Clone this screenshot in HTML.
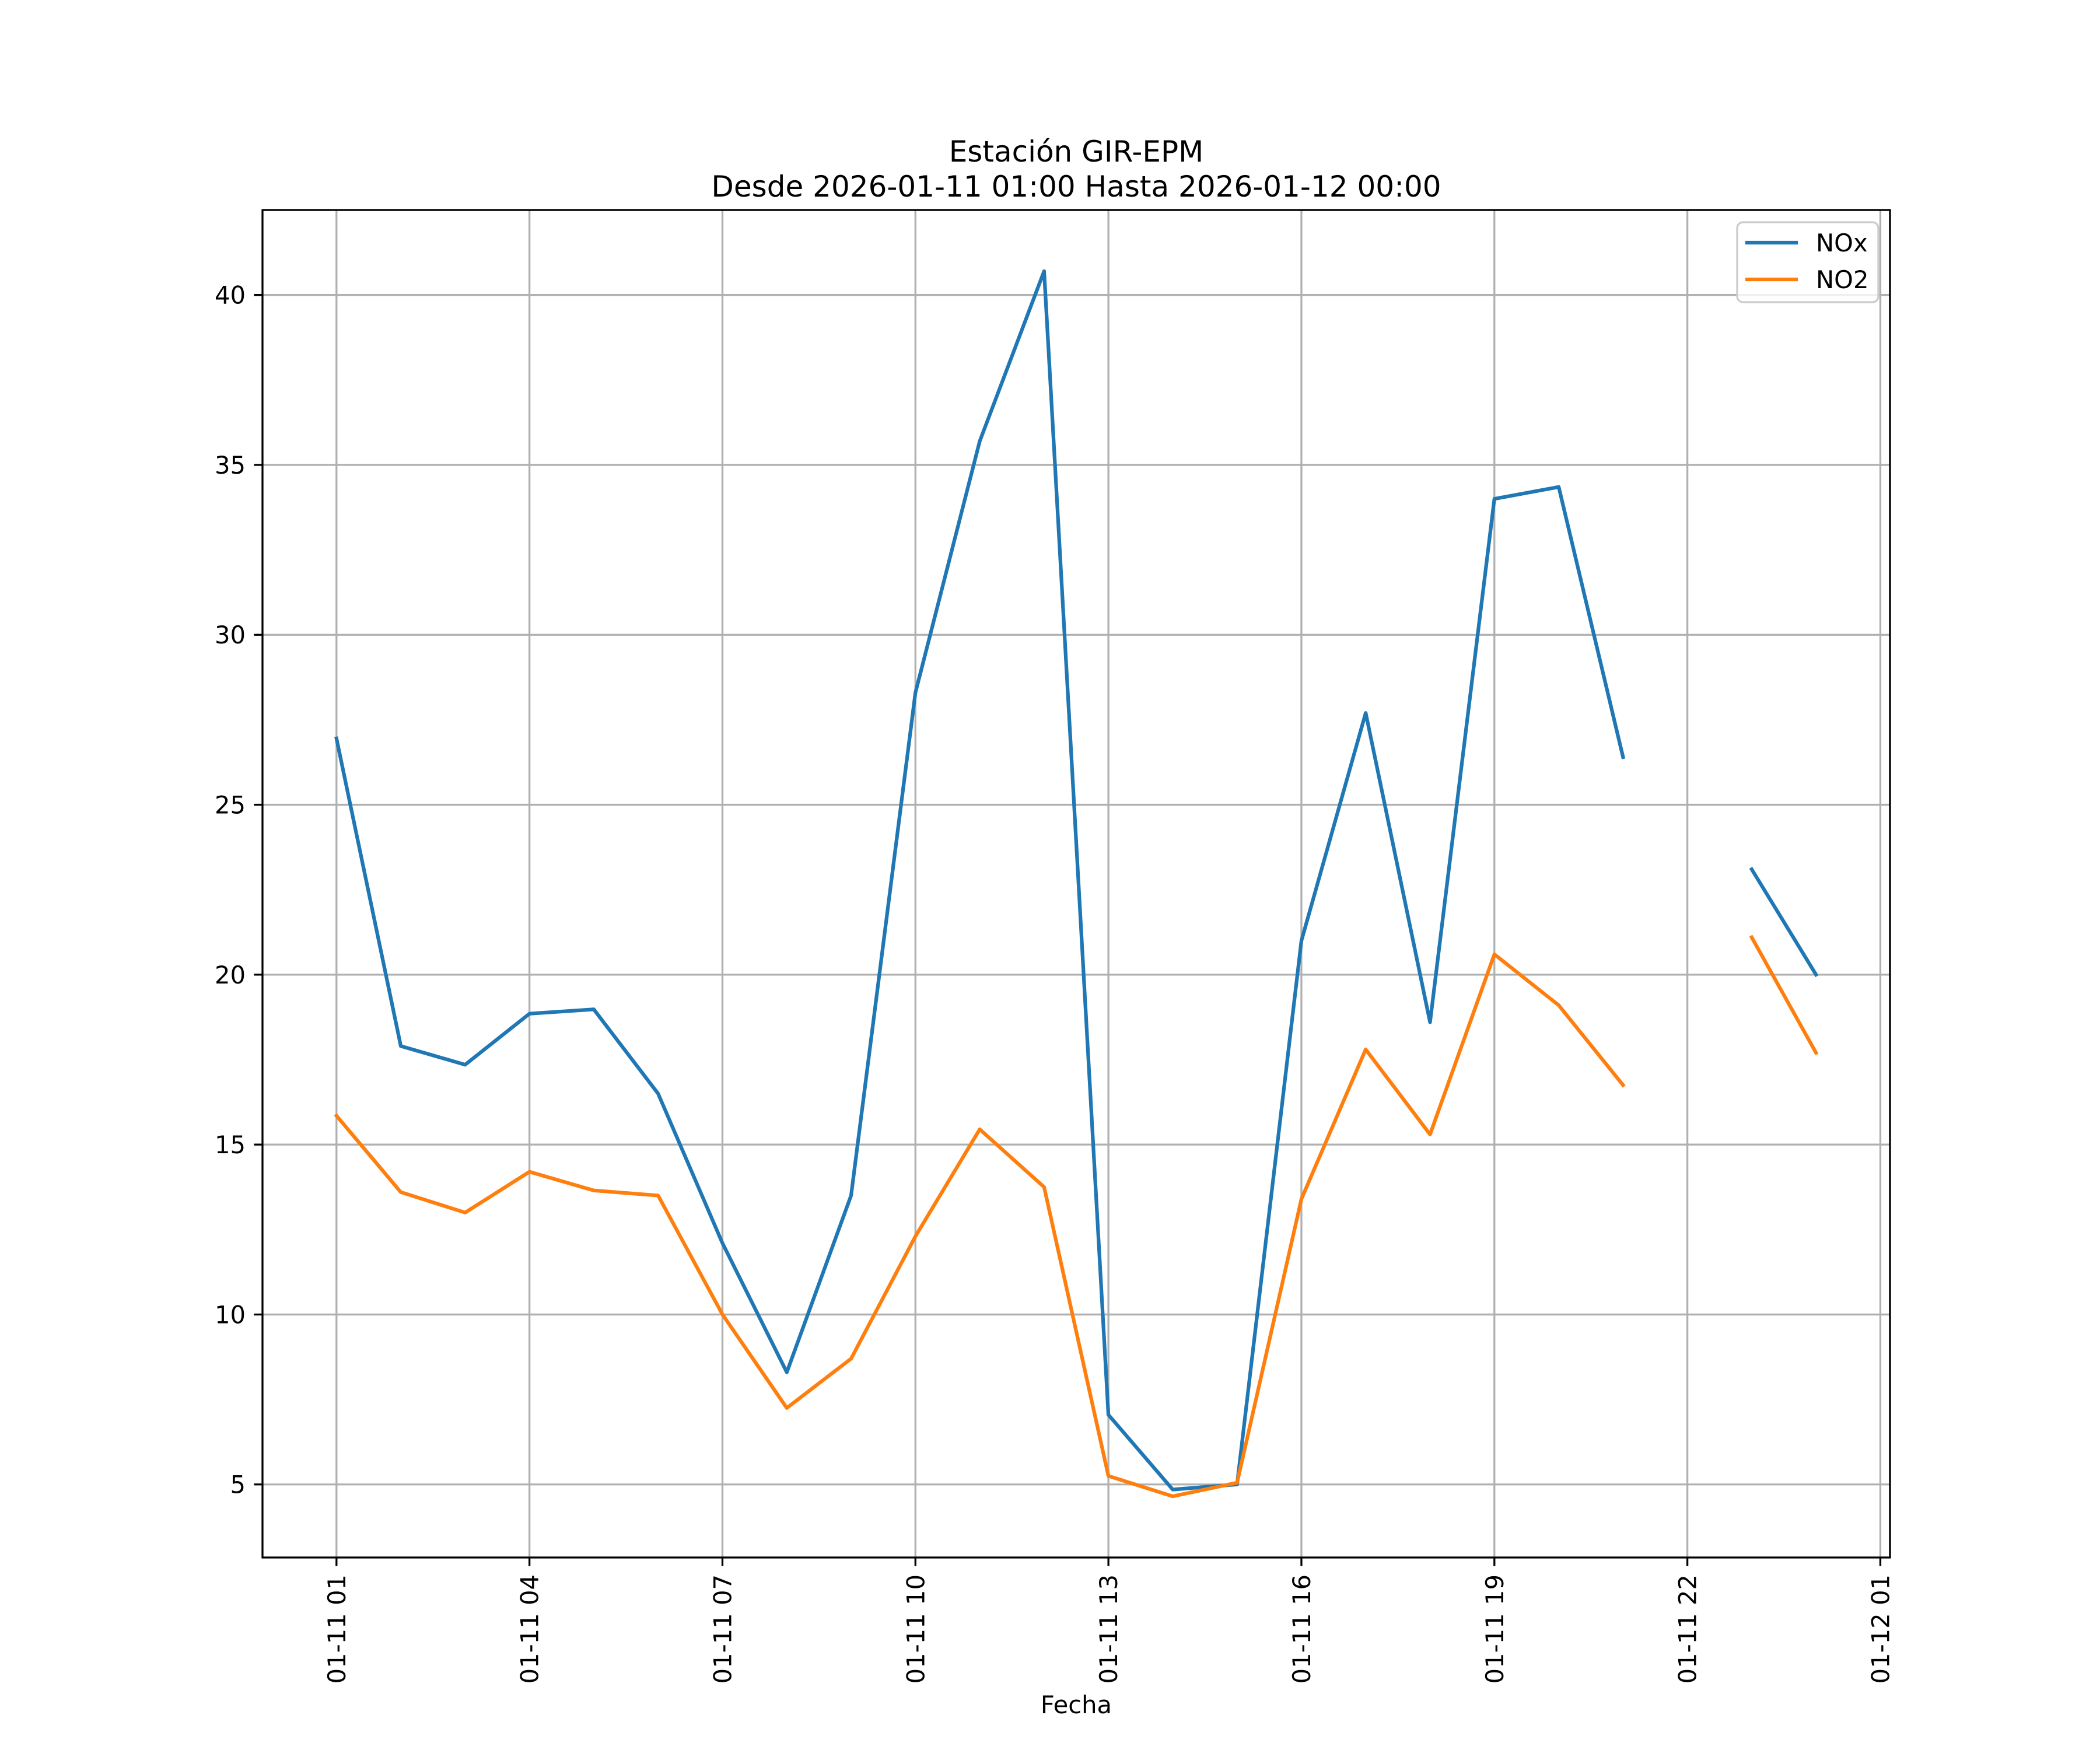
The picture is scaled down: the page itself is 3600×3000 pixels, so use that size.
<!DOCTYPE html>
<html><head><meta charset="utf-8"><style>html,body{margin:0;padding:0;background:#fff}svg{display:block}text{font-family:"DejaVu Sans","Liberation Sans",sans-serif;fill:#000}</style></head>
<body>
<svg id="chart" width="3600" height="3000" viewBox="0 0 3600 3000" xmlns="http://www.w3.org/2000/svg">
<rect width="3600" height="3000" fill="#fff"/>
<text x="1845" y="277" font-size="50" text-anchor="middle">Estación GIR-EPM</text>
<text x="1845" y="337" font-size="50" text-anchor="middle">Desde 2026-01-11 01:00 Hasta 2026-01-12 00:00</text>
<g id="grid"></g><g id="series"></g><g id="axes"></g>
<text x="1845" y="2937" font-size="41.7" text-anchor="middle">Fecha</text>
<g>
<rect x="2978" y="381" width="242" height="137" rx="10" fill="#fff" fill-opacity="0.8" stroke="#cccccc" stroke-width="3.3"/>
<line x1="2992" y1="416" x2="3082" y2="416" stroke="#1f77b4" stroke-width="6.25"/>
<text x="3113" y="431" font-size="41.7">NOx</text>
<line x1="2992" y1="479" x2="3082" y2="479" stroke="#ff7f0e" stroke-width="6.25"/>
<text x="3113" y="494" font-size="41.7">NO2</text>
</g>
</svg>
<script>
const hours = [1,2,3,4,5,6,7,8,9,10,11,12,13,14,15,16,17,18,19,20,21,22,23,24];
const noxValues = [26.95,17.9,17.35,18.85,18.98,16.5,12.1,8.3,13.5,28.3,35.7,40.7,7.05,4.85,5.0,21.0,27.7,18.6,34.0,34.35,26.4,null,23.1,20.0];
const no2Values = [15.85,13.6,13.0,14.2,13.65,13.5,10.0,7.25,8.7,12.3,15.45,13.75,5.25,4.65,5.05,13.4,17.8,15.3,20.6,19.1,16.75,null,21.1,17.7];
const yTicks = [5,10,15,20,25,30,35,40];
const xTickHours = [1,4,7,10,13,16,19,22,25];
const xTickLabels = ["01-11 01","01-11 04","01-11 07","01-11 10","01-11 13","01-11 16","01-11 19","01-11 22","01-12 01"];

const L=450,R=3240,T=360,B=2670;
const yMin=2.85, yMax=42.5;
function xs(h){return L+(h-(1-1.15))/(24-1+2.3)*(R-L);}
function ys(v){return B-(v-yMin)/(yMax-yMin)*(B-T);}
const NS="http://www.w3.org/2000/svg";
function mk(tag,attrs,parent){const e=document.createElementNS(NS,tag);for(const k in attrs)e.setAttribute(k,attrs[k]);parent.appendChild(e);return e;}
const grid=document.getElementById('grid'),axes=document.getElementById('axes'),series=document.getElementById('series');

yTicks.forEach(v=>{
  const y=ys(v);
  const g=mk('line',{x1:L,x2:R,y1:y,y2:y,stroke:'#b0b0b0','stroke-width':3.3},grid);
  
  
  const t=mk('line',{x1:L-14.6,x2:L,y1:y,y2:y,stroke:'#000','stroke-width':3.3},axes);
  
  
  const lb=mk('text',{x:L-29,y:y+15,'font-size':41.7,'text-anchor':'end'},axes);
  lb.textContent=v;
  
  
});
xTickHours.forEach((h,i)=>{
  const x=xs(h);
  const g=mk('line',{x1:x,x2:x,y1:T,y2:B,stroke:'#b0b0b0','stroke-width':3.3},grid);
  
  
  const t=mk('line',{x1:x,x2:x,y1:B,y2:B+14.6,stroke:'#000','stroke-width':3.3},axes);
  
  
  const lb=mk('text',{x:0,y:0,'font-size':41.7,'text-anchor':'end',transform:`translate(${x+15},${B+29}) rotate(-90)`},axes);
  lb.textContent=xTickLabels[i];
  
  
});
const frame=mk('rect',{x:L,y:T,width:R-L,height:B-T,fill:'none',stroke:'#000','stroke-width':3.3},axes);



function drawSeries(vals,color,name){
  let d='',pen=false;
  vals.forEach((v,i)=>{
    if(v===null){pen=false;return;}
    d+=(pen?'L':'M')+xs(hours[i]).toFixed(1)+' '+ys(v).toFixed(1)+' ';pen=true;
  });
  const p=mk('path',{d:d,fill:'none',stroke:color,'stroke-width':6.25,'stroke-linejoin':'round','stroke-linecap':'square'},series);
  
  
}
drawSeries(noxValues,'#1f77b4','nox-line');
drawSeries(no2Values,'#ff7f0e','no2-line');
</script>
</body></html>
